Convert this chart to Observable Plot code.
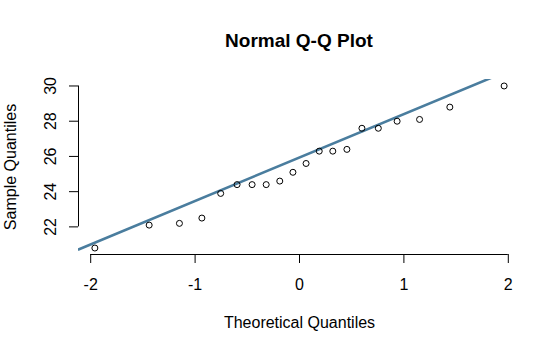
<!DOCTYPE html>
<html>
<head>
<meta charset="utf-8">
<script src="https://cdn.jsdelivr.net/npm/d3@7"></script>
<script src="https://cdn.jsdelivr.net/npm/@observablehq/plot@0.6"></script>
<style>
  html, body { margin: 0; padding: 0; background: #fff; }
  #wrap { width: 560px; height: 352px; font-family: "Liberation Sans", Arial, sans-serif; color: #000; }
  #title { box-sizing: border-box; height: 60px; padding-top: 31px; padding-left: 78px; width: 520px;
           text-align: center; font-size: 19px; line-height: 19px; font-weight: bold; }
  svg { display: block; }
</style>
</head>
<body>
<div id="wrap">
  <div id="title">Normal Q-Q Plot</div>
  <div id="chart"></div>
</div>
<script>
// Theoretical normal quantiles (x) and sample quantiles (y)
const theoretical = [-1.96, -1.44, -1.15, -0.935, -0.755, -0.598, -0.454, -0.319, -0.189, -0.063,
                     0.063, 0.189, 0.319, 0.454, 0.598, 0.755, 0.935, 1.15, 1.44, 1.96];
const sample = [20.8, 22.1, 22.2, 22.5, 23.9, 24.4, 24.4, 24.4, 24.6, 25.1,
                25.6, 26.3, 26.3, 26.4, 27.6, 27.6, 28.0, 28.1, 28.8, 30.0];
const xTicks = [-2, -1, 0, 1, 2];
const yTicks = [22, 24, 26, 28, 30];
const xLabel = "Theoretical Quantiles";
const yLabel = "Sample Quantiles";
const normalQuartile = 0.6744898; // qnorm(0.75)

const rows = theoretical.map((t, i) => ({t, s: sample[i]}));

// R-style 4% range extension
function extend([a, b]) { const e = (b - a) * 0.04; return [a - e, b + e]; }
const xDomain = extend(d3.extent(theoretical));
const yDomain = extend(d3.extent(sample));

// qqline: through the first and third quartiles
const sorted = sample.slice().sort(d3.ascending);
const q1 = d3.quantile(sorted, 0.25), q3 = d3.quantile(sorted, 0.75);
const slope = (q3 - q1) / (2 * normalQuartile);
const intercept = (q1 + q3) / 2;
const lineData = xDomain.map(x => ({x, y: intercept + slope * x}));

const font = "'Liberation Sans', Arial, sans-serif";

const chart = Plot.plot({
  width: 560,
  height: 292,
  marginTop: 19,
  marginBottom: 98,
  marginLeft: 78,
  marginRight: 40,
  style: {fontFamily: font, fontSize: "16px", color: "#000", background: "#fff"},
  x: {domain: xDomain},
  y: {domain: yDomain},
  marks: [
    Plot.line(lineData, {x: "x", y: "y", stroke: "#4a7d9e", strokeWidth: 2.6, clip: true}),
    Plot.dot(rows, {x: "t", y: "s", r: 3, stroke: "#000", strokeWidth: 1, fill: "none"}),
    Plot.ruleY([yDomain[0]], {x1: () => d3.min(xTicks), x2: () => d3.max(xTicks), stroke: "#000"}),
    Plot.ruleX([xDomain[0]], {y1: () => d3.min(yTicks), y2: () => d3.max(yTicks), stroke: "#000"}),
    Plot.axisX({ticks: xTicks, tickSize: 9, tickPadding: 15, tickFormat: d => String(d),
                label: null, fontSize: 16}),
    Plot.axisY({ticks: yTicks, tickSize: 9, tickPadding: 13.5, tickRotate: -90,
                tickFormat: d => String(d), label: null, fontSize: 16}),
    Plot.text([xLabel], {text: d => d, frameAnchor: "bottom", lineAnchor: "bottom",
                         dy: 73, fontSize: 16, fill: "#000"}),
    Plot.text([yLabel], {text: d => d, frameAnchor: "left", textAnchor: "middle", lineAnchor: "bottom",
                         rotate: -90, dx: -63, fontSize: 16, fill: "#000"})
  ]
});
document.getElementById("chart").appendChild(chart);
</script>
</body>
</html>
